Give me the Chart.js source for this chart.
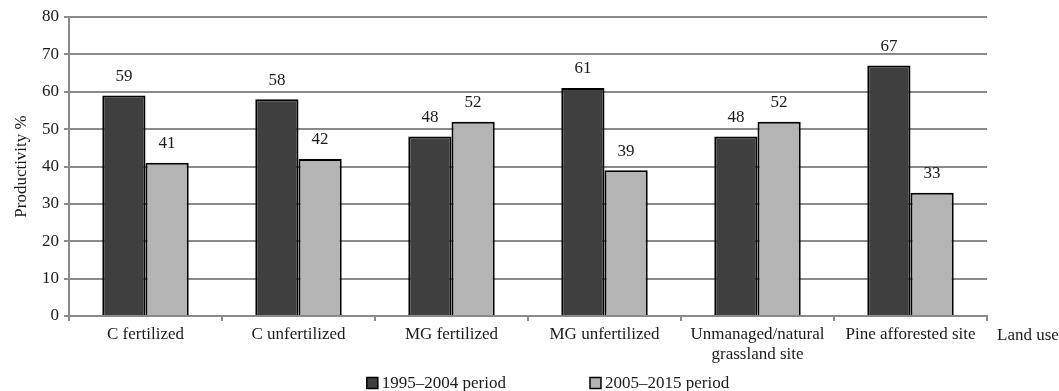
<!DOCTYPE html>
<html>
<head>
<meta charset="utf-8">
<style>
  html, body { margin: 0; padding: 0; background: #ffffff; }
  #wrap { width: 1059px; height: 391px; }
</style>
<script src="https://cdn.jsdelivr.net/npm/chart.js@4.4.1/dist/chart.umd.min.js"></script>
</head>
<body>
<div id="wrap"><canvas id="chart" width="1059" height="391"></canvas></div>
<script>
// Land-use categories along the horizontal axis
const categories = [
  'C fertilized',
  'C unfertilized',
  'MG fertilized',
  'MG unfertilized',
  ['Unmanaged/natural', 'grassland site'],
  'Pine afforested site'
];

// Productivity (%) for each period
const period1995to2004 = [59, 58, 48, 61, 48, 67];
const period2005to2015 = [41, 42, 52, 39, 52, 33];

const seriesNames = ['1995–2004 period', '2005–2015 period'];
const yTicks = { min: 0, max: 80, step: 10 };

const FONT = 'Liberation Serif, Times New Roman, serif';
const GRID = '#8a8a8a';
const TEXT = '#1a1a1a';

// Writes each bar's value just above it
const valueLabels = {
  id: 'valueLabels',
  afterDatasetsDraw(chart) {
    const ctx = chart.ctx;
    ctx.save();
    ctx.font = '17px ' + FONT;
    ctx.fillStyle = TEXT;
    ctx.textAlign = 'center';
    ctx.textBaseline = 'middle';
    chart.data.datasets.forEach((ds, i) => {
      chart.getDatasetMeta(i).data.forEach((bar, j) => {
        ctx.fillText(String(ds.data[j]), bar.x, bar.y - 19);
      });
    });
    ctx.restore();
  }
};

// Axis name written at the right end of the category axis
const axisName = {
  id: 'axisName',
  afterDraw(chart) {
    const ctx = chart.ctx;
    const x = chart.scales.x;
    ctx.save();
    ctx.font = '17px ' + FONT;
    ctx.fillStyle = TEXT;
    ctx.textAlign = 'left';
    ctx.textBaseline = 'middle';
    ctx.fillText('Land use', chart.chartArea.right + 10, x.top + 20);
    ctx.restore();
  }
};

// Series key along the bottom edge
const seriesKey = {
  id: 'seriesKey',
  afterDraw(chart) {
    const ctx = chart.ctx;
    ctx.save();
    ctx.font = '17px ' + FONT;
    ctx.textBaseline = 'middle';
    ctx.textAlign = 'left';
    const box = 11, gapText = 4, gapItems = 84;
    const widths = chart.data.datasets.map(ds => box + gapText + ctx.measureText(ds.label).width);
    const total = widths.reduce((a, b) => a + b, 0) + gapItems * (widths.length - 1);
    let x = 548 - total / 2;
    const y = chart.height - 8;
    chart.data.datasets.forEach((ds, i) => {
      ctx.fillStyle = ds.backgroundColor;
      ctx.fillRect(x, y - box / 2, box, box);
      ctx.lineWidth = 1.5;
      ctx.strokeStyle = '#000000';
      ctx.strokeRect(x, y - box / 2, box, box);
      ctx.fillStyle = TEXT;
      ctx.fillText(ds.label, x + box + gapText, y + 1);
      x += widths[i] + gapItems;
    });
    ctx.restore();
  }
};

new Chart(document.getElementById('chart'), {
  type: 'bar',
  data: {
    labels: categories,
    datasets: [
      {
        label: seriesNames[0],
        data: period1995to2004,
        backgroundColor: '#3f3f3f',
        borderColor: '#000000',
        borderWidth: 2,
        categoryPercentage: 0.565,
        barPercentage: 1.0
      },
      {
        label: seriesNames[1],
        data: period2005to2015,
        backgroundColor: '#b4b4b4',
        borderColor: '#000000',
        borderWidth: 2,
        categoryPercentage: 0.565,
        barPercentage: 1.0
      }
    ]
  },
  options: {
    responsive: false,
    animation: false,
    events: [],
    layout: { padding: { left: 9, right: 72, top: 17, bottom: 26 } },
    plugins: {
      legend: { display: false },
      tooltip: { enabled: false }
    },
    scales: {
      x: {
        offset: true,
        grid: {
          offset: true,
          drawOnChartArea: false,
          drawTicks: true,
          tickLength: 5,
          color: GRID,
          lineWidth: 2
        },
        border: { color: GRID, width: 2 },
        ticks: {
          font: { family: FONT, size: 17 },
          color: TEXT,
          padding: 3,
          maxRotation: 0,
          autoSkip: false
        },
        afterFit(scale) { scale.height = 49; }
      },
      y: {
        min: yTicks.min,
        max: yTicks.max,
        ticks: {
          stepSize: yTicks.step,
          font: { family: FONT, size: 17 },
          color: TEXT,
          padding: 5
        },
        grid: {
          color: GRID,
          lineWidth: 2,
          tickLength: 5
        },
        border: { color: GRID, width: 2 },
        title: {
          display: true,
          text: 'Productivity %',
          font: { family: FONT, size: 17 },
          color: TEXT,
          padding: 2
        },
        afterFit(scale) { scale.width = 60; }
      }
    }
  },
  plugins: [valueLabels, axisName, seriesKey]
});
</script>
</body>
</html>
